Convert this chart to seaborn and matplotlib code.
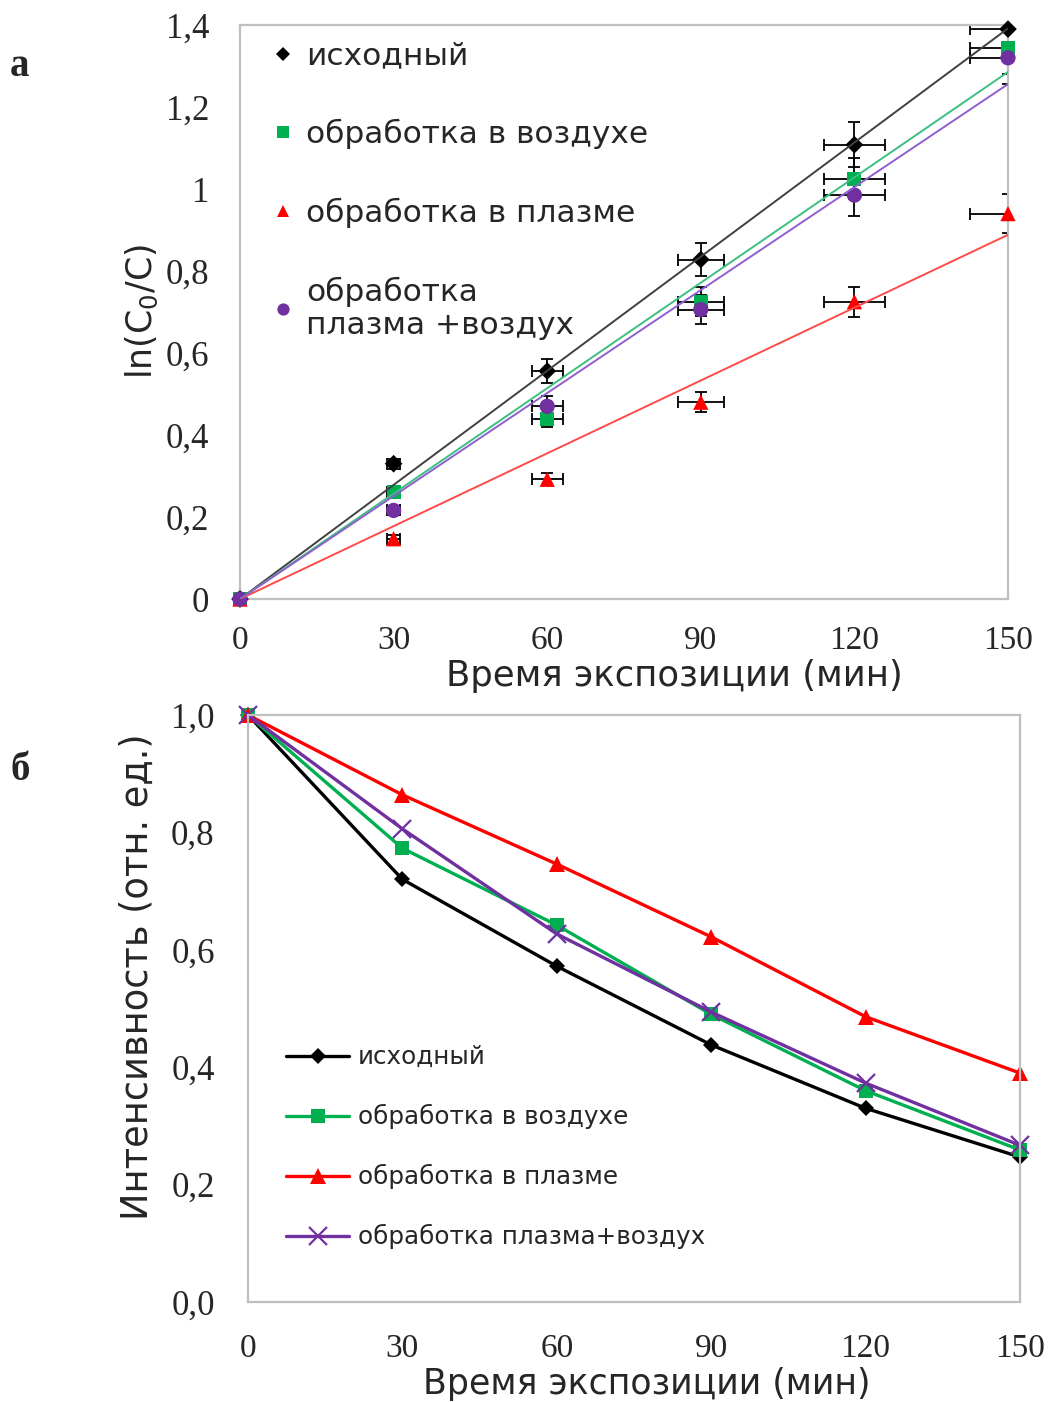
import numpy as np
import pandas as pd
import matplotlib
matplotlib.use("Agg")
import matplotlib.pyplot as plt
import seaborn as sns
from matplotlib.lines import Line2D

# ---------------- data ----------------
time_min = [0, 30, 60, 90, 120, 150]

legend_a = ["исходный", "обработка в воздухе", "обработка в плазме",
            "обработка\nплазма +воздух"]
legend_b = ["исходный", "обработка в воздухе", "обработка в плазме",
            "обработка плазма+воздух"]

# panel a: ln(C0/C)
ln_initial = [0.0, 0.33, 0.556, 0.828, 1.108, 1.39]
ln_air = [0.0, 0.26, 0.44, 0.725, 1.025, 1.345]
ln_plasma = [0.0, 0.147, 0.292, 0.48, 0.725, 0.94]
ln_plasma_air = [0.0, 0.216, 0.47, 0.706, 0.985, 1.32]

# error bars
err_time = [0.0, 1.2, 3.0, 4.5, 6.0, 7.5]
err_initial = [0.0, 0.012, 0.03, 0.04, 0.055, 0.07]
err_air = [0.0, 0.01, 0.02, 0.035, 0.05, 0.065]
err_plasma = [0.0, 0.01, 0.015, 0.024, 0.036, 0.047]
err_plasma_air = [0.0, 0.01, 0.025, 0.035, 0.05, 0.065]

# panel b: relative intensity
int_initial = [1.0, 0.72, 0.572, 0.438, 0.33, 0.247]
int_air = [1.0, 0.773, 0.642, 0.49, 0.36, 0.259]
int_plasma = [1.0, 0.864, 0.746, 0.622, 0.486, 0.39]
int_plasma_air = [1.0, 0.806, 0.627, 0.494, 0.373, 0.267]

x_ticks = [0, 30, 60, 90, 120, 150]
y_ticks_a = [0, 0.2, 0.4, 0.6, 0.8, 1.0, 1.2, 1.4]
y_labels_a = ["0", "0,2", "0,4", "0,6", "0,8", "1", "1,2", "1,4"]
y_ticks_b = [0, 0.2, 0.4, 0.6, 0.8, 1.0]
y_labels_b = ["0,0", "0,2", "0,4", "0,6", "0,8", "1,0"]

# ---------------- style ----------------
sns.set_style("white")
plt.rcParams["font.family"] = ["DejaVu Sans"]
SERIF = "Liberation Serif"
SPINE = "#bfbfbf"

mk_colors = ["#000000", "#00b050", "#ff0000", "#7030a0"]
fit_colors = ["#404040", "#3cbf80", "#ff4a4a", "#8f5fd0"]
markers_a = ["D", "s", "^", "o"]
msize_a = [9, 10, 11, 11]

fig = plt.figure(figsize=(10.54, 14.02), dpi=100)
axA = fig.add_axes([240 / 1054, 1 - 599 / 1402, 768 / 1054, 574 / 1402])
axB = fig.add_axes([248 / 1054, 1 - 1302 / 1402, 772 / 1054, 587 / 1402])

# ---------------- panel a ----------------
ln_series = [ln_initial, ln_air, ln_plasma, ln_plasma_air]
err_series = [err_initial, err_air, err_plasma, err_plasma_air]
t = np.array(time_min, dtype=float)
for vals, errs, c, fc, m, ms in zip(ln_series, err_series, mk_colors,
                                     fit_colors, markers_a, msize_a):
    v = np.array(vals)
    # linear trend through the origin (least squares)
    k = np.sum(t * v) / np.sum(t * t)
    fit = pd.DataFrame({"t": [0.0, 150.0], "y": [0.0, k * 150.0]})
    axA.errorbar(time_min, vals, xerr=err_time, yerr=errs, fmt="none",
                 ecolor="black", elinewidth=1.3, capsize=4, capthick=1.3,
                 zorder=2)
    sns.scatterplot(x=time_min, y=vals, marker=m, color=c, s=ms ** 2,
                    edgecolor="none", ax=axA, zorder=3, clip_on=False)
    sns.lineplot(data=fit, x="t", y="y", color=fc, linewidth=1.4, ax=axA,
                 zorder=4)

axA.set_xlim(0, 150)
axA.set_ylim(0, 1.4)
axA.set_xticks(x_ticks)
axA.set_xticklabels([str(v) for v in x_ticks], fontfamily=SERIF, fontsize=24)
axA.set_yticks(y_ticks_a)
axA.set_yticklabels(y_labels_a, fontfamily=SERIF, fontsize=25)
axA.tick_params(axis="both", direction="in", length=7, width=1.2,
                color=SPINE)
axA.tick_params(axis="x", pad=19)
axA.tick_params(axis="y", pad=22)
axA.set_xlabel("Время экспозиции (мин)", fontsize=25.5)
axA.set_ylabel(r"ln(C$_{\mathregular{0}}$/C)", fontsize=25)
axA.xaxis.set_label_coords(0.565, -0.105)
axA.yaxis.set_label_coords(-0.104, 0.5)
for sp in axA.spines.values():
    sp.set_color(SPINE)
    sp.set_linewidth(1.6)

handles_a = [Line2D([], [], linestyle="none", marker=m, color=c,
                    markersize=ms * 0.8, markeredgewidth=0)
             for m, c, ms in zip(markers_a, mk_colors, msize_a)]
legA = axA.legend(handles_a, legend_a, loc="upper left",
                  bbox_to_anchor=(0.003, 1.02), frameon=False, fontsize=22.5,
                  handlelength=0.8, handletextpad=0.35, labelspacing=1.55)

# ---------------- panel b ----------------
int_series = [int_initial, int_air, int_plasma, int_plasma_air]
markers_b = ["D", "s", "^", "x"]
msize_b = [8, 10, 11, 13]
for vals, c, m, ms, lab in zip(int_series, mk_colors, markers_b, msize_b,
                               legend_b):
    sns.lineplot(x=time_min, y=vals, color=c, marker=m, markersize=ms,
                 markeredgecolor=c, markeredgewidth=1.6 if m == "x" else 0,
                 linewidth=2.4, ax=axB, label=lab, clip_on=False)

axB.set_xlim(0, 150)
axB.set_ylim(0, 1.0)
axB.set_xticks(x_ticks)
axB.set_xticklabels([str(v) for v in x_ticks], fontfamily=SERIF, fontsize=24)
axB.set_yticks(y_ticks_b)
axB.set_yticklabels(y_labels_b, fontfamily=SERIF, fontsize=25)
axB.tick_params(axis="both", direction="in", length=7, width=1.2,
                color=SPINE)
axB.tick_params(axis="x", pad=23)
axB.tick_params(axis="y", pad=24)
axB.set_xlabel("Время экспозиции (мин)", fontsize=25)
axB.set_ylabel("Интенсивность (отн. ед.)", fontsize=26.5)
axB.xaxis.set_label_coords(0.516, -0.110)
axB.yaxis.set_label_coords(-0.12, 0.555)
for sp in axB.spines.values():
    sp.set_color(SPINE)
    sp.set_linewidth(1.6)

legB = axB.legend(loc="upper left", bbox_to_anchor=(0.02, 0.475),
                  frameon=False, fontsize=17.7, handlelength=2.6,
                  handletextpad=0.35, labelspacing=1.42)

# panel letters
fig.text(10 / 1054, 1 - 67 / 1402, "а", fontfamily=SERIF, fontweight="bold",
         fontsize=28, va="center", ha="left")
fig.text(10 / 1054, 1 - 770 / 1402, "б", fontfamily=SERIF, fontweight="bold",
         fontsize=28, va="center", ha="left")

fig.savefig("out.png", dpi=100)
